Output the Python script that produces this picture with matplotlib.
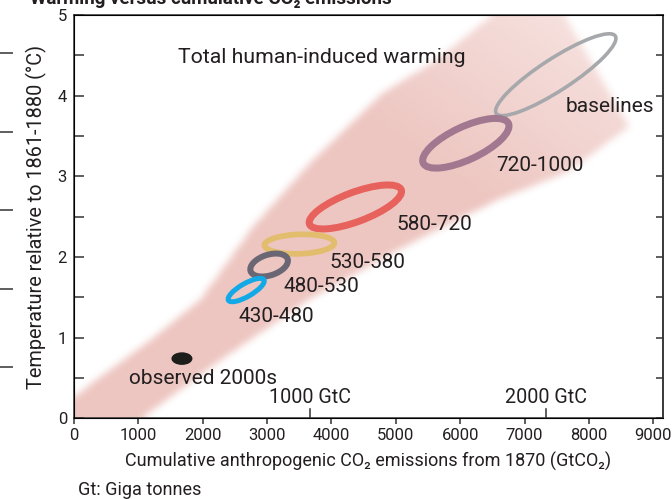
import numpy as np
import matplotlib.pyplot as plt
from matplotlib.patches import Ellipse
from matplotlib.path import Path
from matplotlib.transforms import ScaledTranslation

plt.rcParams['font.family'] = ['Roboto', 'DejaVu Sans']
TXT = '#231f20'

# scenario categories (ppm CO2-eq): centre of each ellipse
cat_labels = ['baselines', '720-1000', '580-720', '530-580', '480-530', '430-480']
cat_x = [7484, 6087, 4371, 3502, 3031, 2675]        # GtCO2
cat_y = [4.26, 3.41, 2.62, 2.16, 1.90, 1.59]        # degC
# label anchor (left / baseline)
lab_x = [7635, 6563, 5010, 3975, 3250, 2551]
lab_y = [3.80, 3.06, 2.33, 1.86, 1.57, 1.20]

# observed 2000s
obs_x, obs_y = 1677, 0.74

# plume of total human-induced warming (outline)
plume_x = [0, 295, 1134, 1957, 2780, 3665, 4798, 5637, 6351, 6650, 7550, 8634,
           7655, 6615, 5575, 5062, 3665, 2345, 823, -100, -100]
plume_y = [0.25, 0.44, 0.93, 1.46, 2.37, 3.16, 4.03, 4.44, 4.90, 5.1, 5.1, 3.61,
           3.04, 2.71, 2.30, 2.09, 1.47, 0.75, -0.14, -0.2, 0.2]

gtc = [1000, 2000]

# ellipse shapes (pixels) and styles
semi_a = [71, 47, 49, 35, 19.5, 20.5]
semi_b = [16, 16.5, 14.7, 9.7, 10.3, 6.5]
tilt = [33, 25, 20.5, 2, 18, 30]
colours = ['#a6a8ab', '#a27790', '#e8625d', '#e3bd6e', '#6a6674', '#12a9e6']
strokes = [3.6, 7, 7, 5.7, 6, 5]

XMAX = 9150


def box_blur(a, r, axis):
    k = np.ones(2*r + 1) / (2*r + 1)
    return np.apply_along_axis(
        lambda m: np.convolve(np.pad(m, r, mode='edge'), k, mode='valid'), axis, a)


fig = plt.figure(figsize=(6.72, 4.99), dpi=100)
ax = fig.add_axes([74/672, 1-418.3/499, (663-74)/672, (418.3-15)/499])

# plume: soft-edged, fading towards the upper right
gx, gy = np.meshgrid(np.linspace(0, XMAX, 460), np.linspace(0, 5, 250))
inside = Path(np.column_stack([plume_x, plume_y])).contains_points(
    np.column_stack([gx.ravel(), gy.ravel()])).reshape(gx.shape).astype(float)
for _ in range(2):
    inside = box_blur(inside, 3, 1)
    inside = box_blur(inside, 2, 0)
s = np.clip((gx/XMAX + gy/5)/2, 0, 1)
rgba = np.zeros(gx.shape + (4,))
rgba[..., :3] = np.array([226, 160, 152]) / 255
rgba[..., 3] = inside * (0.6 - 0.28*np.clip((s - 0.62)/0.3, 0, 1))
ax.imshow(rgba, extent=[0, XMAX, 0, 5], origin='lower', aspect='auto',
          zorder=1, interpolation='bilinear')

for cx, cy, a, b, ang, col, lw in zip(cat_x, cat_y, semi_a, semi_b, tilt, colours, strokes):
    tr = fig.dpi_scale_trans + ScaledTranslation(cx, cy, ax.transData)
    ax.add_patch(Ellipse((0, 0), 2*a/100, 2*b/100, angle=ang, transform=tr,
                         fill=False, edgecolor=col, lw=lw*0.72, zorder=3))

tr = fig.dpi_scale_trans + ScaledTranslation(obs_x, obs_y, ax.transData)
ax.add_patch(Ellipse((0, 0), 0.21, 0.126, transform=tr, facecolor='#1d1d1b',
                     edgecolor='none', zorder=3))

for lab, x, y in zip(cat_labels, lab_x, lab_y):
    ax.text(x, y, lab, fontsize=15, color=TXT, va='baseline', ha='left', zorder=4)
ax.text(854, 0.43, 'observed 2000s', fontsize=15, color=TXT, va='baseline', zorder=4)
ax.text(1615, 4.40, 'Total human-induced warming', fontsize=15.3, color=TXT,
        va='baseline', zorder=4)

for g in gtc:
    xg = g * 44 / 12
    ax.axvline(xg, ymin=0, ymax=0.022, color='#333333', lw=1.1)
    ax.text(xg, 0.19, f'{g} GtC', fontsize=14.2, color=TXT, ha='center', va='baseline')

ax.set_xlim(0, XMAX)
ax.set_ylim(0, 5)
ax.set_xticks(range(0, 9001, 1000))
ax.set_yticks(range(0, 6))
ax.set_yticks(np.arange(0.5, 5, 0.5), minor=True)
ax.tick_params(axis='x', direction='out', length=4, width=1.1, labelsize=12,
               colors='#333333', labelcolor=TXT, pad=3)
ax.tick_params(axis='y', which='both', direction='in', length=7, width=1.1,
               labelsize=12, colors='#333333', labelcolor=TXT, pad=5)
for sp in ax.spines.values():
    sp.set_color('#333333')
    sp.set_linewidth(1.1)

ax2 = ax.twinx()
ax2.set_ylim(0, 5)
ax2.set_yticks(np.arange(0, 5.01, 0.5))
ax2.tick_params(axis='y', direction='in', length=5, width=1.1, colors='#333333',
                labelright=False)
ax2.spines['right'].set_color('#333333')
ax2.spines['right'].set_linewidth(1.1)

ax.set_xlabel('Cumulative anthropogenic CO\u2082 emissions from 1870 (GtCO\u2082)',
              fontsize=13, color=TXT, labelpad=6)
ax.set_ylabel('Temperature relative to 1861-1880 (\u00b0C)', fontsize=14.3,
              color=TXT, labelpad=8)

fig.text(78/672, 4/499, 'Gt: Giga tonnes', fontsize=13, color=TXT, va='baseline')
fig.text(30/672, 1 - 3.5/499, 'Warming versus cumulative CO\u2082 emissions',
         fontsize=13.5, fontweight='bold', color=TXT, va='baseline')

# tick marks of the neighbouring panel at the left edge
axl = fig.add_axes([13/672, 1 - 367/499, 0.0001, 314/499])
axl.set_ylim(0, 4)
axl.set_yticks(range(0, 5))
axl.set_xticks([])
axl.tick_params(axis='y', direction='out', length=9.4, width=1.1,
                colors='#333333', labelleft=False)
for sp in axl.spines.values():
    sp.set_visible(False)

fig.savefig('out.png', dpi=100)
